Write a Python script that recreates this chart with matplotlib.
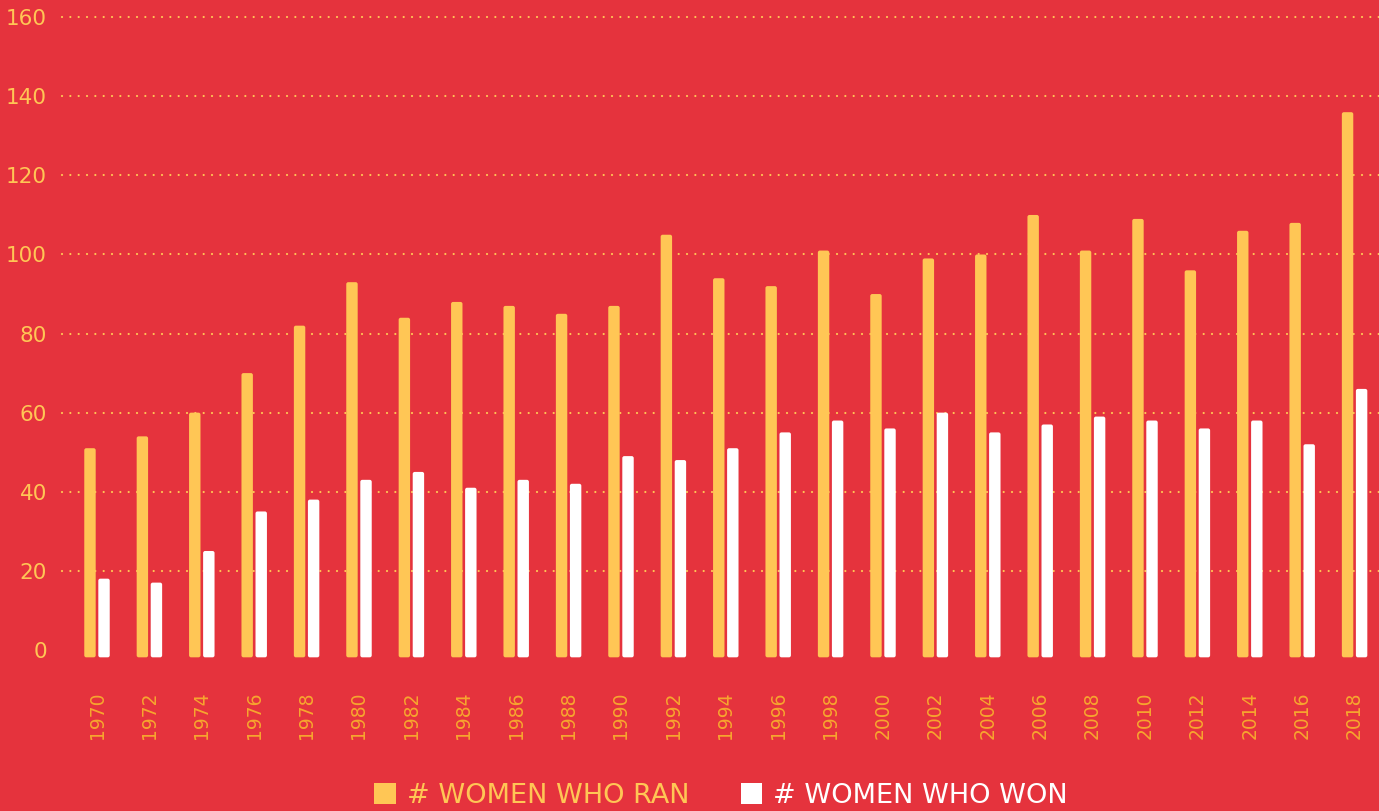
import matplotlib
matplotlib.use("Agg")
import matplotlib.pyplot as plt
from matplotlib.patches import FancyBboxPatch, Patch

# ---- data ----
years = ["1970", "1972", "1974", "1976", "1978", "1980", "1982", "1984", "1986",
         "1988", "1990", "1992", "1994", "1996", "1998", "2000", "2002", "2004",
         "2006", "2008", "2010", "2012", "2014", "2016", "2018"]
women_ran = [51, 54, 60, 70, 82, 93, 84, 88, 87, 85, 87, 105, 94, 92, 101, 90,
             99, 100, 110, 101, 109, 96, 106, 108, 136]
women_won = [18, 17, 25, 35, 38, 43, 45, 41, 43, 42, 49, 48, 51, 55, 58, 56,
             60, 55, 57, 59, 58, 56, 58, 52, 66]
y_ticks = [0, 20, 40, 60, 80, 100, 120, 140, 160]
series_labels = ["# WOMEN WHO RAN", "# WOMEN WHO WON"]

# ---- style ----
BG = "#E5333D"
YELLOW = "#FFC655"
ORANGE = "#F7A62E"
WHITE = "#FFFFFF"
plt.rcParams["font.family"] = ["DejaVu Sans"]

W, H = 1379, 811
fig = plt.figure(figsize=(W / 100, H / 100), dpi=100, facecolor=BG)
ax = fig.add_axes([62 / W, 1 - 659.7 / H, 1 - 62 / W, (659.7 - 9.4) / H])
ax.set_facecolor(BG)
ax.set_xlim(-0.668, 24.466)
ax.set_ylim(-2.5, 162)

BASE = -1.9
bw = 0.218
off = 0.134
x = list(range(len(years)))

# dotted gridlines
for t in y_ticks[1:]:
    ax.axhline(t, color=YELLOW, lw=1.6, linestyle=(0, (0.01, 3.74)),
               dash_capstyle="round", zorder=1, clip_on=False)

bars_ran = ax.bar([i - off for i in x], [v - BASE for v in women_ran], bw,
                  bottom=BASE, color=YELLOW, zorder=2)
bars_won = ax.bar([i + off for i in x], [v - BASE for v in women_won], bw,
                  bottom=BASE, color=WHITE, zorder=2)

# rounded corners
r = 0.038
asp = (2.0 / 3.953) / r
for bars, col in ((bars_ran, YELLOW), (bars_won, WHITE)):
    for p in bars.patches:
        bx, by = p.get_x(), p.get_y()
        bwid, bh = p.get_width(), p.get_height()
        fp = FancyBboxPatch((bx, by), bwid, bh,
                            boxstyle=f"round,pad=0,rounding_size={r}",
                            mutation_aspect=asp, fc=col, ec="none", zorder=3)
        ax.add_patch(fp)
        p.set_visible(False)

for s in ax.spines.values():
    s.set_visible(False)

ax.set_yticks(y_ticks)
ax.set_yticklabels([str(t) for t in y_ticks])
ax.set_xticks(x)
ax.set_xticklabels(years, rotation=90)
ax.tick_params(axis="y", length=0, pad=10.8, labelsize=15.5, labelcolor=YELLOW)
ax.tick_params(axis="x", length=0, pad=23, labelsize=13.5, labelcolor=ORANGE)

handles = [Patch(fc=YELLOW, ec="none"), Patch(fc=WHITE, ec="none")]
fig.legend(handles, series_labels, loc="center",
           bbox_to_anchor=(721 / W, 1 - 796 / H), ncol=2, frameon=False,
           fontsize=19.5, handlelength=0.8, handleheight=0.8,
           handletextpad=0.4, columnspacing=1.9, borderpad=0,
           labelcolor=[YELLOW, WHITE])

fig.savefig("out.png", dpi=100, facecolor=BG)
